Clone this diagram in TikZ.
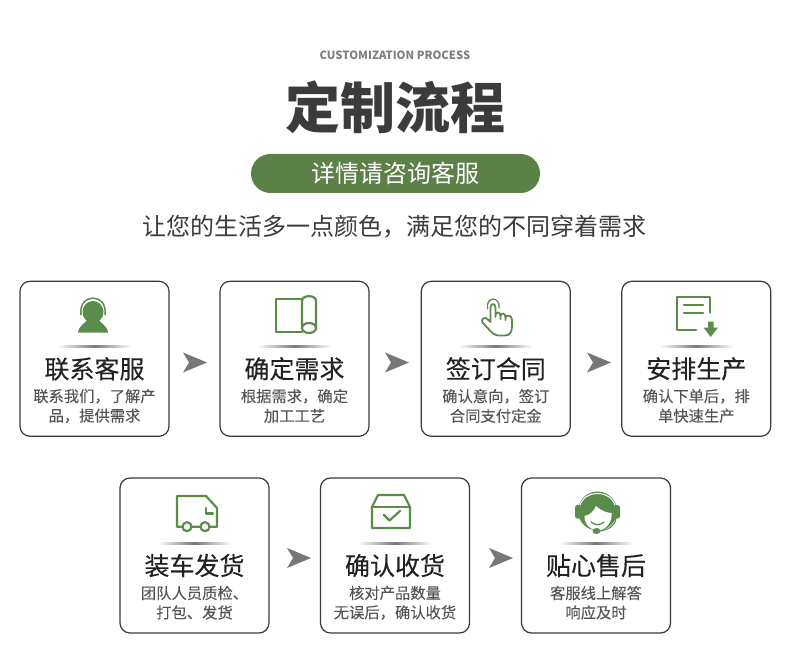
\documentclass[tikz,border=0pt]{standalone}
\usepackage{fontspec}
\setmainfont{Noto Sans CJK SC}
\newfontfamily\boldish[FakeBold=0.25]{Noto Sans CJK SC}
\newfontfamily\subish[FakeBold=0.08]{Noto Sans CJK SC}
\usetikzlibrary{calc}
\definecolor{pillG}{HTML}{5B8147}
\definecolor{iconG}{HTML}{5A8C4C}
\definecolor{inkD}{HTML}{3B3B3B}
\definecolor{inkM}{HTML}{222222}
\definecolor{inkS}{HTML}{555555}
\definecolor{chevG}{HTML}{777777}
\definecolor{ruleG}{HTML}{777777}
\tikzset{
  cardbox/.style={draw=inkD,line width=1.2pt,rounded corners=10pt,minimum width=149pt,minimum height=155pt,inner sep=0pt,fill=white},
  cardtitle/.style={inner sep=0pt,text=inkM,font=\boldish\fontsize{25}{25}\selectfont},
  cardsub/.style={inner sep=0pt,text=inkS,font=\subish\fontsize{15.3}{15.3}\selectfont},
  iconline/.style={draw=iconG,line width=2.2pt,line join=round,line cap=round},
  iconthin/.style={draw=iconG,line width=1.8pt,line join=round,line cap=round},
}
% name, centre x, centre y, title, line 1, line 2
\newcommand{\stepcard}[6]{%
  \node[cardbox] (#1) at (#2,#3) {};
  \shade[left color=white,right color=white,middle color=ruleG] ($(#1.center)+(-37,-13.5)$) rectangle ($(#1.center)+(37,-11.5)$);
  \node[cardtitle] (#1t) at ($(#1.center)+(0,10)$) {#4};
  \node[cardsub] (#1a) at ($(#1.center)+(0,37.5)$) {#5};
  \node[cardsub] (#1b) at ($(#1.center)+(0,57)$) {#6};
}
\newcommand{\stepchev}[3]{%
  \coordinate (#1) at (#2,#3);
  \fill[chevG] ($(#1)+(-12,-10)$) -- ($(#1)+(12,0)$) -- ($(#1)+(-12,10)$) -- ($(#1)+(-6,0)$) -- cycle;
}
\begin{document}
\begin{tikzpicture}[x=1pt,y=-1pt]
\useasboundingbox (0,0) rectangle (790,671);
\fill[white] (0,0) rectangle (790,671);

\node[inner sep=0pt,text=gray,font=\bfseries\fontsize{11.3}{12}\selectfont] (eng) at (395,55.5) {CUSTOMIZATION PROCESS};
\node[inner sep=0pt,text=inkD,font=\bfseries\fontsize{55}{55}\selectfont] (head) at (395,107) {定制流程};
\node[fill=pillG,rounded corners=19.5pt,minimum width=289pt,minimum height=39pt,inner sep=0pt] (pill) at (395.5,173.5) {};
\node[inner sep=0pt,text=white,font=\fontsize{24}{24}\selectfont] (pillt) at (395.5,173.5) {详情请咨询客服};
\node[inner sep=0pt,text=inkD,font=\fontsize{24}{24}\selectfont] (sub) at (394.5,227) {让您的生活多一点颜色，满足您的不同穿着需求};

\stepcard{c1}{94.5}{358.8}{联系客服}{联系我们，了解产}{品，提供需求}
\stepcard{c2}{294.5}{358.8}{确定需求}{根据需求，确定}{加工工艺}
\stepcard{c3}{495.8}{358.8}{签订合同}{确认意向，签订}{合同支付定金}
\stepcard{c4}{696.3}{358.8}{安排生产}{确认下单后，排}{单快速生产}
\stepcard{c5}{194.5}{555.5}{装车发货}{团队人员质检、}{打包、发货}
\stepcard{c6}{395}{555.5}{确认收货}{核对产品数量}{无误后，确认收货}
\stepcard{c7}{596}{555.5}{贴心售后}{客服线上解答}{响应及时}

\stepchev{a1}{195}{362.5}
\stepchev{a2}{397}{362.5}
\stepchev{a3}{599}{362.5}
\stepchev{a4}{299}{558}
\stepchev{a5}{501}{558}

% person with headphones
\fill[iconG] (93,312) ellipse [x radius=10.5,y radius=11];
\fill[iconG] (78,332.5) .. controls (79,325) and (86,323) .. (88,319) -- (98,319) .. controls (100,323) and (107,325) .. (108,332.5) -- cycle;
\draw[iconG,line width=1.5pt] (81,315) .. controls (78,292.5) and (108,292.5) .. (105,315);

% roll
\draw[iconline] (302,299) -- (276,299) -- (276,332) -- (302,332);
\draw[iconline] (302,328) -- (302,301) .. controls (302,294.5) and (316,294.5) .. (316,301) -- (316,328);
\draw[iconline] (309,328) ellipse [x radius=7,y radius=5];

% hand
\draw[iconthin] (490.5,322) -- (490.5,307.5) .. controls (490.5,303) and (495.5,303) .. (495.5,307.5) -- (495.5,317)
  (495.5,315) .. controls (496,311.5) and (500.5,311.5) .. (500.5,316) -- (500.5,319)
  (500.5,316) .. controls (501,312.5) and (505.5,312.5) .. (505.5,317.5) -- (505.5,320)
  (505.5,318) .. controls (506,314.5) and (512,314.5) .. (512,320) -- (512,326) .. controls (512,332) and (510,335.5) .. (505,335.5) -- (499,335.5) .. controls (495,335.5) and (492,333) .. (489,329.5) -- (482.5,322.5) .. controls (480.5,319) and (485,316) .. (488,319.5) -- (490.5,322);
\draw[iconG,line width=1.3pt,line cap=round] (487.5,309) .. controls (485.5,296) and (500.5,296) .. (499,308);

% document
\draw[iconline] (710,312.5) -- (710,297) -- (677,297) -- (677,330) -- (696,330);
\draw[iconline] (684,305) -- (703,305) (684,313) -- (703,313);
\fill[iconG] (708,321.5) -- (713.5,321.5) -- (713.5,327.5) -- (718,327.5) -- (710.7,337) -- (703.5,327.5) -- (708,327.5) -- cycle;

% truck
\draw[iconline] (182.5,526.7) -- (177,526.7) -- (177,496) -- (206,496) -- (217,508) -- (217,526.7) -- (209.5,526.7) (191.5,526.7) -- (200.5,526.7);
\draw[iconline] (187,526.7) circle [radius=4.5];
\draw[iconline] (205,526.7) circle [radius=4.5];
\draw[iconline] (206,508) -- (206,513.5) -- (213,513.5);

% parcel
\draw[iconline] (378,495) -- (404,495) -- (410,507) -- (410,528) -- (372,528) -- (372,507) -- cycle;
\draw[iconline] (372,507) -- (410,507);
\draw[iconline] (384,515) -- (389.5,520.5) -- (400,511);

% service agent
\fill[iconG] (597.5,511) circle [radius=19.5];
\fill[white] (584.5,516) .. controls (590,515) and (594,511) .. (596,506) .. controls (601,511) and (608,513) .. (611.5,513) .. controls (613,522) and (605,530.5) .. (598,530.5) .. controls (590,530.5) and (584,523) .. (584.5,516) -- cycle;
\fill[white] (576,525) rectangle (584,534);
\fill[white] (611,525) rectangle (620,534);
\fill[white] (584,526) .. controls (590,533) and (606,533) .. (612,526) -- (612,535) -- (584,535) -- cycle;
\draw[white,line width=1pt] (579.5,507) .. controls (583,489) and (612,489) .. (615.5,507);
\fill[iconG,rounded corners=2.5pt] (575,505) rectangle (582,518.5);
\fill[iconG,rounded corners=2.5pt] (613,505) rectangle (620,518.5);
\draw[iconG,line width=1.3pt,line cap=round] (591,522) .. controls (595,525.5) and (600,525.5) .. (604,522);
\draw[iconG,line width=1.1pt] (616,518) .. controls (615,527) and (606,531) .. (597,531);
\fill[iconG] (596.5,531) ellipse [x radius=4,y radius=3];
\end{tikzpicture}
\end{document}
